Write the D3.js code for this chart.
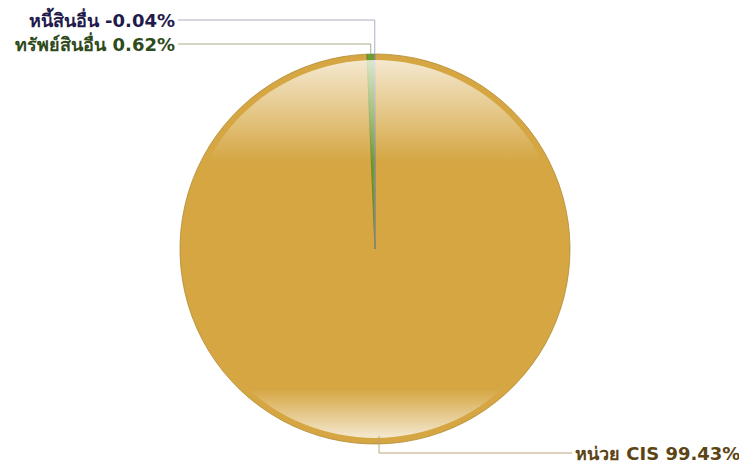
<!DOCTYPE html>
<html lang="th">
<head>
  <meta charset="utf-8">
  <title>Pie</title>
  <script src="https://d3js.org/d3.v7.min.js"></script>
  <style>
    body { margin: 0; background: #fff; }
    .label {
      font-family: "DejaVu Sans", "Noto Sans", sans-serif;
      font-weight: bold;
      font-size: 18px;
    }
  </style>
</head>
<body>
  <div id="chart"></div>
  <script>
    var w = 739;
    var h = 466;

    // ข้อมูล
    var categories = ['หน่วย CIS', 'ทรัพย์สินอื่น', 'หนี้สินอื่น'];
    var values = [99.43, 0.62, -0.04];
    var labelText = ['หน่วย CIS 99.43%', 'ทรัพย์สินอื่น 0.62%', 'หนี้สินอื่น -0.04%'];

    var fills = ['#d5a642', '#6e9e30', '#8a86b8'];
    var strokes = ['#b08a34', '#4f7a20', '#8d8ab0'];
    var lineColors = ['#b9a57c', '#a3b08a', '#aeaec4'];
    var textColors = ['#5c4414', '#2f4a1b', '#1f1b4b'];

    var cx = 375, cy = 249, r = 195;

    var svg = d3.select('#chart').append('svg')
      .attr('width', w)
      .attr('height', h);

    var defs = svg.append('defs');
    var grad = defs.append('linearGradient')
      .attr('id', 'gloss')
      .attr('x1', 0).attr('y1', 0).attr('x2', 0).attr('y2', 1);
    [[0, 0.75], [0.27, 0], [0.87, 0], [1, 0.75]].forEach(function (s) {
      grad.append('stop')
        .attr('offset', s[0])
        .attr('stop-color', '#fff')
        .attr('stop-opacity', s[1]);
    });

    var pie = d3.pie()
      .sort(null)
      .value(function (d) { return Math.abs(d); });
    var arcs = pie(values);

    var arc = d3.arc().innerRadius(0).outerRadius(r);

    var g = svg.append('g').attr('transform', 'translate(' + cx + ',' + cy + ')');

    g.selectAll('path.slice')
      .data(arcs)
      .enter().append('path')
      .attr('class', 'slice')
      .attr('d', arc)
      .attr('fill', function (d, i) { return fills[i]; })
      .attr('stroke', function (d, i) { return strokes[i]; })
      .attr('stroke-width', function (d, i) { return i === 0 ? 0.8 : 0.6; });

    // glossy overlay
    g.append('circle')
      .attr('r', r - 6)
      .attr('fill', 'url(#gloss)');

    // leader lines & labels
    var labelPos = [
      { x: 575, y: 453, anchor: 'start' },
      { x: 175, y: 44, anchor: 'end' },
      { x: 175, y: 20, anchor: 'end' }
    ];

    arcs.forEach(function (d, i) {
      var a = (d.startAngle + d.endAngle) / 2;
      var px = cx + Math.sin(a) * r;
      var py = cy - Math.cos(a) * r;
      var p = labelPos[i];
      var startY = i === 0 ? cy - Math.cos(a) * (r - 8) : py;
      var endX = p.anchor === 'start' ? p.x - 3 : p.x + 3;
      svg.append('path')
        .attr('d', 'M' + px + ',' + startY + 'V' + p.y + 'H' + endX)
        .attr('fill', 'none')
        .attr('stroke', lineColors[i])
        .attr('stroke-width', 1);
      svg.append('text')
        .attr('class', 'label')
        .attr('x', p.x)
        .attr('y', p.y)
        .attr('dy', '0.38em')
        .attr('text-anchor', p.anchor)
        .attr('fill', textColors[i])
        .text(labelText[i]);
    });
  </script>
</body>
</html>
